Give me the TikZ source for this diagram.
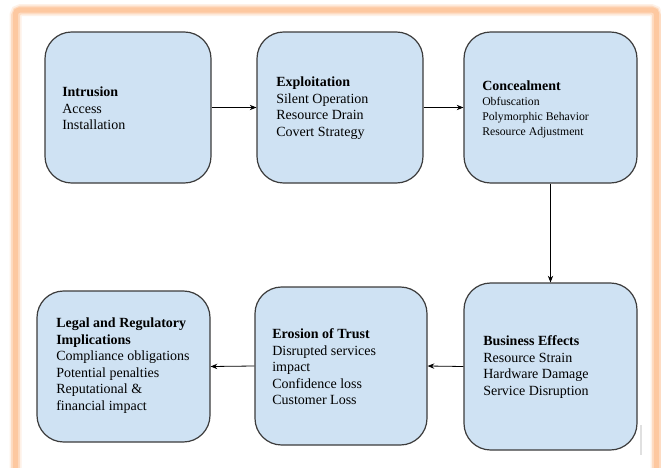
\documentclass[tikz,border=0pt]{standalone}
\usepackage{fontspec}
\setmainfont{Liberation Serif}
\usetikzlibrary{arrows.meta}
\definecolor{boxfill}{HTML}{CFE2F3}
\definecolor{boxline}{HTML}{3C3C3C}
\definecolor{framecol}{HTML}{FDC8A0}
\begin{document}
\begin{tikzpicture}[x=0.75pt,y=-0.75pt,
  stagebox/.style={draw=boxline,line width=0.9pt,fill=boxfill,rounded corners=20pt,inner sep=0pt},
  stagetext/.style={anchor=west,align=left,inner sep=0pt,font=\fontsize{10.5}{12.4}\selectfont},
  flow/.style={draw=black,line width=0.6pt,-{Stealth[length=5pt,width=4pt]}}]
\useasboundingbox (0,0) rectangle (661,468);
\fill[white] (0,0) rectangle (661,468);
% frame with soft glow
\begin{scope}
\clip (0,0) rectangle (661,468);
\draw[framecol,line width=9pt,opacity=0.25,rounded corners=4pt] (15.5,10) rectangle (656.5,500);
\draw[framecol,line width=6.5pt,opacity=0.5,rounded corners=4pt] (15.5,10) rectangle (656.5,500);
\draw[framecol,line width=4pt,rounded corners=3pt] (15.5,10) rectangle (656.5,500);
\end{scope}
\draw[black!12,line width=1.5pt] (641,425) -- (641,455);
% boxes
\node[stagebox,minimum width=166*0.75pt,minimum height=151*0.75pt] (b1) at (128,107.5) {};
\node[stagebox,minimum width=166*0.75pt,minimum height=151*0.75pt] (b2) at (340,107.5) {};
\node[stagebox,minimum width=173*0.75pt,minimum height=151*0.75pt] (b3) at (550.5,107.5) {};
\node[stagebox,minimum width=173*0.75pt,minimum height=167*0.75pt] (b4) at (550.5,366.5) {};
\node[stagebox,minimum width=172*0.75pt,minimum height=158*0.75pt] (b5) at (341,366) {};
\node[stagebox,minimum width=173*0.75pt,minimum height=151*0.75pt] (b6) at (123.5,366.5) {};
% texts
\node[stagetext] (t1) at (62,108.5) {\textbf{Intrusion}\\Access\\Installation};
\node[stagetext] (t2) at (276,108) {\textbf{Exploitation}\\Silent Operation\\Resource Drain\\Covert Strategy};
\node[stagetext,font=\fontsize{8.8}{11.25}\selectfont] (t3) at (482,109) {{\fontsize{10.5}{11.25}\selectfont\textbf{Concealment}}\\Obfuscation\\Polymorphic Behavior\\Resource Adjustment};
\node[stagetext] (t4) at (483,367) {\textbf{Business Effects}\\Resource Strain\\Hardware Damage\\Service Disruption};
\node[stagetext] (t5) at (272,367) {\textbf{Erosion of Trust}\\Disrupted services\\impact\\Confidence loss\\Customer Loss};
\node[stagetext] (t6) at (56,365.5) {\textbf{Legal and Regulatory}\\\textbf{Implications}\\Compliance obligations\\Potential penalties\\Reputational \&\\financial impact};
% connectors
\draw[flow] (b1.east) -- (b2.west);
\draw[flow] (b2.east) -- (b3.west);
\draw[flow] (b3.south) -- (b4.north);
\draw[flow] (b4.west) -- (b5.east);
\draw[flow] (b5.west) -- (b6.east);
\end{tikzpicture}
\end{document}
